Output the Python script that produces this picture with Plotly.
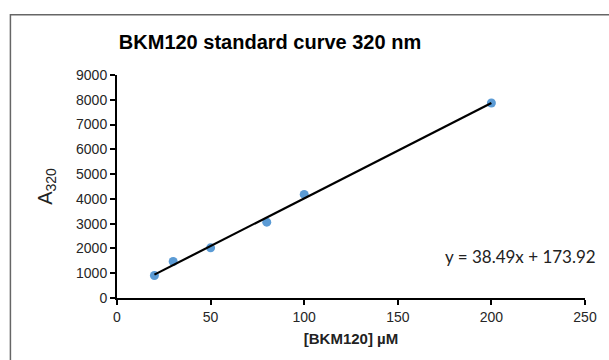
import plotly.graph_objects as go

# Standard curve data: BKM120 concentration (µM) vs absorbance signal at 320 nm
conc_um = [20, 30, 50, 80, 100, 200]
a320 = [910, 1475, 2025, 3060, 4180, 7870]

# Linear fit reported on the chart
slope = 38.49
intercept = 173.92
fit_x = [min(conc_um), max(conc_um)]
fit_y = [slope * x + intercept for x in fit_x]

x_ticks = [0, 50, 100, 150, 200, 250]
y_ticks = [0, 1000, 2000, 3000, 4000, 5000, 6000, 7000, 8000, 9000]

W, H = 609, 360
ML, MR, MT, MB = 117, 20, 75, 62

fig = go.Figure()

fig.add_trace(go.Scatter(
    x=conc_um, y=a320, mode="markers",
    marker=dict(color="#5B9BD5", size=9, line=dict(width=0)),
    showlegend=False,
))
fig.add_trace(go.Scatter(
    x=fit_x, y=fit_y, mode="lines",
    line=dict(color="black", width=2.2),
    showlegend=False,
))

axis_font = dict(family="Liberation Sans, Arial, sans-serif", size=14, color="#262626")

fig.update_layout(
    width=W, height=H,
    margin=dict(l=ML, r=MR, t=MT, b=MB),
    paper_bgcolor="white", plot_bgcolor="white",
    font=axis_font,
    title=dict(
        text="<b>BKM120 standard curve 320 nm</b>",
        font=dict(family="Liberation Sans, Arial, sans-serif", size=20, color="black"),
        x=270 / W, xanchor="center", y=1 - 42 / H, yanchor="middle",
    ),
    xaxis=dict(
        range=[0, 250], tickvals=x_ticks, ticks="outside", ticklen=5,
        tickwidth=2, tickcolor="black", showline=True, linecolor="black",
        linewidth=2, showgrid=False, zeroline=False,
        tickfont=axis_font,
        title=dict(text="<b>[BKM120] µM</b>", standoff=10,
                   font=dict(family="Liberation Sans, Arial, sans-serif",
                             size=15, color="#222222")),
    ),
    yaxis=dict(
        range=[0, 9000], tickvals=y_ticks, ticks="outside", ticklen=5,
        tickwidth=2, tickcolor="black", showline=True, linecolor="black",
        linewidth=2, showgrid=False, zeroline=False,
        tickfont=axis_font,
        title=dict(text="A<sub>320</sub>", standoff=18,
                   font=dict(family="Liberation Sans, Arial, sans-serif",
                             size=20, color="#222222")),
    ),
)

# Chart-area frame
pw = W - ML - MR
ph = H - MT - MB
fig.add_shape(
    type="rect", xref="paper", yref="paper",
    x0=(9.5 - ML) / pw, x1=(W + 10 - ML) / pw,
    y0=-(MB + 10) / ph, y1=(H - MB - 14.7) / ph,
    line=dict(color="#666666", width=1.5), fillcolor="rgba(0,0,0,0)",
    layer="below",
)

# Regression equation label
fig.add_annotation(
    text=f"y = {slope}x + {intercept}",
    x=(602 - ML) / pw, xref="paper", xanchor="right",
    y=(H - MB - 256) / ph, yref="paper", yanchor="middle",
    showarrow=False,
    font=dict(family="Lato, Carlito, sans-serif", size=17, color="#222222"),
)

fig.write_html("out.html")
